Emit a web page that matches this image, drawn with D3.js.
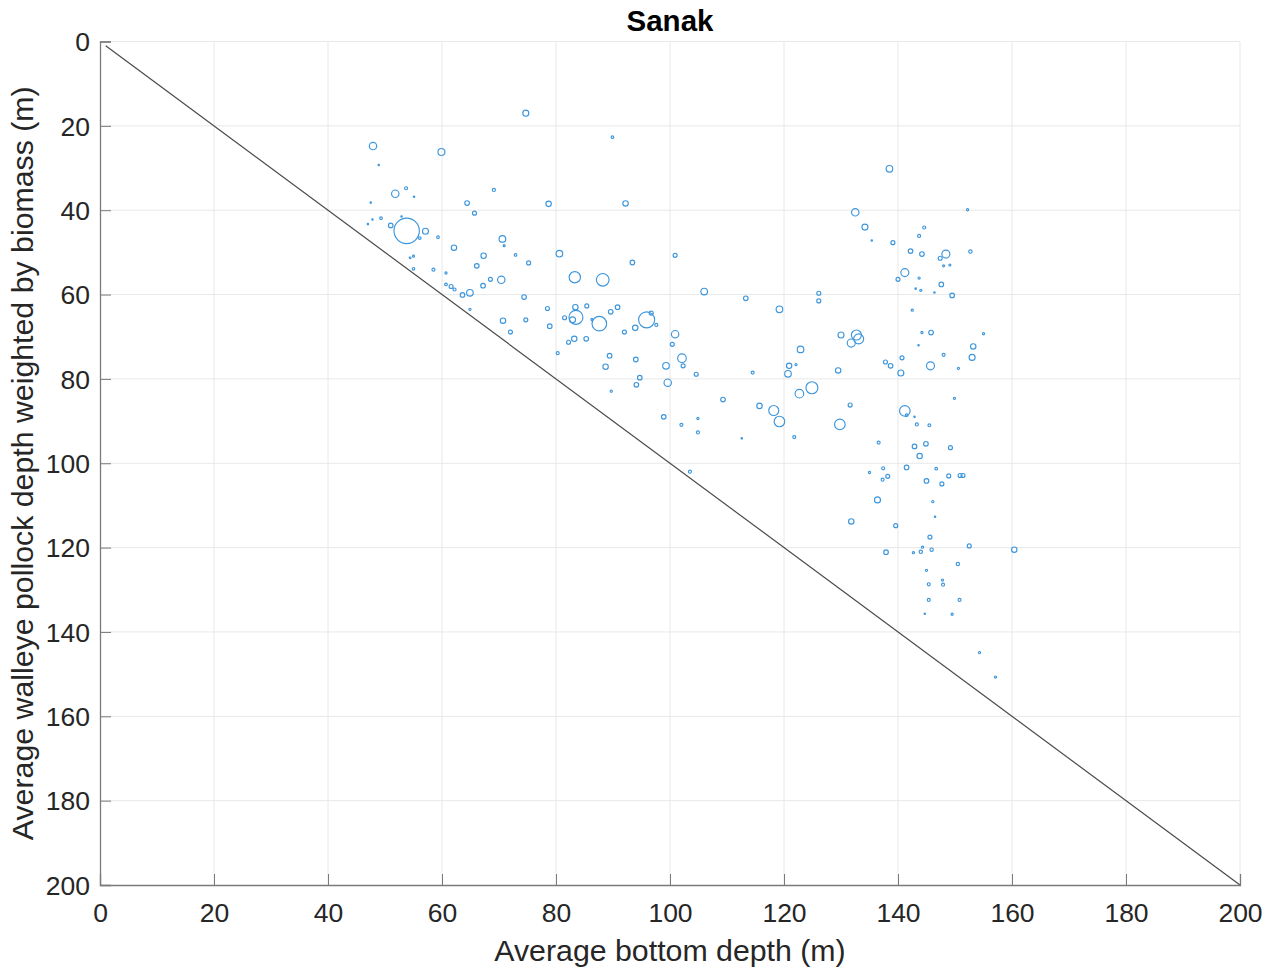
<!DOCTYPE html>
<html>
<head>
<meta charset="utf-8">
<script src="https://cdn.jsdelivr.net/npm/d3@7"></script>
<style>
  html, body { margin: 0; padding: 0; background: #fff; }
  svg { display: block; font-family: "Liberation Sans", Arial, Helvetica, sans-serif; }
</style>
</head>
<body>
<svg id="chart" width="1268" height="970"></svg>
<script>
// Sanak: average bottom depth vs. biomass-weighted pollock depth per haul (m)
const bottomDepth = [
  74.7, 89.9, 47.9, 59.9, 48.9, 51.8, 53.7, 55.1, 47.5, 69.1,
  64.4, 78.7, 65.7, 47.8, 49.3, 47.0, 52.9, 51.0, 53.8, 57.1,
  56.1, 59.3, 70.6, 70.9, 62.1, 67.3, 72.9, 80.6, 55.0, 54.4,
  75.2, 66.1, 55.0, 58.5, 60.7, 83.3, 88.2, 70.4, 68.5, 67.2,
  60.7, 61.6, 62.2, 63.6, 64.9, 74.4, 78.5, 83.4, 85.4, 90.8,
  64.9, 83.5, 82.9, 81.5, 87.6, 86.3, 89.6, 70.7, 74.7, 78.9,
  72.0, 83.2, 82.2, 85.3, 89.4, 88.7, 80.3, 89.7, 106.0, 113.3,
  126.1, 126.1, 119.2, 95.9, 96.7, 97.6, 93.9, 92.0, 100.9, 100.4,
  94.0, 102.1, 102.3, 99.3, 104.6, 94.7, 94.1, 99.6, 122.9, 120.9,
  122.1, 120.7, 114.5, 124.9, 122.7, 109.3, 115.7, 118.2, 119.2, 131.6,
  129.8, 130.0, 132.7, 133.1, 131.8, 129.5, 98.9, 104.9, 102.0, 104.9,
  112.6, 121.8, 103.5, 92.2, 93.4, 100.9, 132.5, 138.5, 152.2, 134.2,
  135.4, 139.1, 144.6, 143.7, 142.2, 144.2, 148.4, 147.4, 152.7, 148.0,
  149.1, 141.2, 140.0, 143.7, 147.6, 144.0, 143.1, 146.4, 149.5, 142.5,
  144.2, 145.8, 155.0, 153.2, 143.6, 153.0, 148.0, 140.7, 137.8, 138.7,
  145.7, 140.5, 150.6, 149.9, 141.2, 141.5, 142.9, 143.3, 145.5, 136.6,
  142.9, 144.9, 149.2, 143.8, 141.5, 137.4, 135.0, 138.2, 137.3, 146.7,
  148.9, 150.9, 151.4, 145.0, 147.7, 136.4, 146.1, 146.5, 131.8, 139.6,
  145.6, 152.5, 160.4, 137.9, 142.7, 144.0, 144.3, 145.9, 150.5, 145.0,
  147.8, 147.9, 145.4, 145.4, 150.8, 144.7, 149.5, 154.3, 157.1
];

const pollockDepth = [
  17.0, 22.7, 24.8, 26.2, 29.3, 36.1, 34.8, 36.8, 38.2, 35.2,
  38.3, 38.5, 40.7, 42.2, 41.9, 43.3, 41.5, 43.6, 44.9, 45.0,
  46.6, 46.4, 46.8, 48.4, 48.9, 50.8, 50.6, 50.3, 50.9, 51.3,
  52.5, 53.2, 53.9, 54.1, 54.9, 55.9, 56.5, 56.5, 56.4, 57.9,
  57.6, 58.1, 58.8, 60.1, 59.6, 60.6, 63.3, 63.0, 62.7, 63.0,
  63.5, 65.4, 66.0, 65.5, 66.9, 65.9, 64.1, 66.2, 66.0, 67.5,
  68.9, 70.5, 71.3, 70.5, 74.5, 77.1, 73.9, 82.9, 59.3, 60.9,
  59.7, 61.5, 63.5, 66.0, 64.4, 67.2, 67.9, 68.9, 69.4, 71.8,
  75.4, 75.1, 76.9, 76.9, 78.9, 79.7, 81.4, 80.9, 73.0, 76.9,
  76.6, 78.8, 78.5, 82.1, 83.5, 84.9, 86.4, 87.5, 90.1, 86.2,
  90.8, 69.6, 69.6, 70.5, 71.5, 78.0, 89.0, 89.4, 90.9, 92.7,
  94.1, 93.8, 102.0, 38.4, 52.4, 50.7, 40.5, 30.2, 39.9, 44.0,
  47.2, 47.7, 44.1, 46.1, 49.7, 50.4, 50.4, 51.4, 49.8, 53.2,
  53.0, 54.8, 56.4, 56.1, 57.6, 59.0, 58.6, 59.5, 60.2, 63.7,
  69.0, 69.0, 69.3, 72.3, 72.0, 74.9, 74.3, 75.0, 76.0, 76.9,
  76.9, 78.6, 77.5, 84.6, 87.6, 88.6, 89.0, 90.8, 91.0, 95.1,
  96.0, 95.4, 96.3, 98.3, 101.0, 101.2, 102.2, 103.1, 103.9, 101.3,
  103.0, 102.9, 102.9, 104.2, 104.9, 108.7, 109.1, 112.7, 113.8, 114.8,
  117.5, 119.6, 120.5, 121.1, 121.2, 121.0, 119.9, 120.5, 123.9, 125.4,
  127.7, 128.8, 128.7, 132.4, 132.4, 135.7, 135.8, 144.9, 150.7
];

// relative pollock biomass per haul (marker area)
const biomass = [
  9, 1.7, 13.7, 12, 0.5, 13.7, 2.3, 0.5, 0.5, 2.5,
  5.3, 7.3, 4, 0.5, 1.7, 0.5, 0.5, 5.3, 161, 9,
  1.7, 1.7, 11, 1, 7.3, 7.3, 1.7, 11, 1, 0.7,
  4, 5.3, 1.7, 2.3, 1.2, 32, 40, 13.7, 4, 5.3,
  1.7, 4, 2.3, 5.3, 11, 5.3, 4, 7.3, 4, 5.3,
  1.2, 49, 9, 4, 53, 1, 5.3, 7.3, 4, 5.3,
  4, 7.3, 4, 5.3, 5.3, 7.3, 2.3, 1.2, 11, 5.3,
  4, 4, 11, 64, 4, 2.3, 7.3, 4, 13.7, 4,
  5.3, 18.5, 4, 11, 4, 5.3, 5.3, 13.7, 11, 7.3,
  1.2, 11, 2.3, 36, 18.5, 5.3, 7.3, 25, 28, 4,
  28, 9, 25, 25, 16, 7.3, 5.3, 1.2, 2.3, 2.3,
  0.5, 2.3, 2.3, 7.3, 5.3, 4, 13.7, 11, 1.2, 9,
  0.5, 4, 2.3, 2.3, 5.3, 5.3, 16, 4, 2.8, 1,
  1, 16, 4, 1.2, 5.3, 1.2, 0.5, 0.5, 5.3, 1.2,
  1.2, 5.3, 1.2, 7.3, 0.5, 9, 2.3, 4, 4, 5.3,
  16, 9, 1.2, 1.2, 28, 1.7, 0.5, 2.3, 2, 2.3,
  5.3, 5.3, 4, 7.3, 5.3, 2.3, 1.2, 4, 2.3, 1.7,
  4, 4, 4, 5.3, 4, 9, 1.2, 0.5, 7.3, 4,
  4, 4, 7.3, 5.3, 1.2, 2.8, 1.2, 2.8, 2.8, 1.2,
  1.2, 2.3, 2.3, 2.3, 2.3, 0.5, 1.2, 1.2, 1.2
];

const xTicks = [0, 20, 40, 60, 80, 100, 120, 140, 160, 180, 200];
const yTicks = [0, 20, 40, 60, 80, 100, 120, 140, 160, 180, 200];
const oneToOne = [1, 200];   // 1:1 reference line endpoints (m)

const title = "Sanak";
const xLabel = "Average bottom depth (m)";
const yLabel = "Average walleye pollock depth weighted by biomass (m)";

const svg = d3.select("#chart");
const plot = { left: 100, right: 1240, top: 41.5, bottom: 885 };

const x = d3.scaleLinear().domain([0, 200]).range([plot.left, plot.right]);
const y = d3.scaleLinear().domain([0, 200]).range([plot.top, plot.bottom]);
const r = d3.scaleSqrt().domain([0, 161]).range([0, 12.7]);

const axisColor = "#7a7a7a";
const textColor = "#262626";
const markColor = "#3d96dc";

// grid
const grid = svg.append("g");
grid.selectAll("line.gx").data(xTicks.slice(1)).join("line")
  .attr("x1", d => x(d)).attr("x2", d => x(d))
  .attr("y1", plot.top).attr("y2", plot.bottom)
  .attr("stroke", "#e8e8e8").attr("stroke-width", 1);
grid.selectAll("line.gy").data(yTicks.slice(0, -1)).join("line")
  .attr("x1", plot.left).attr("x2", plot.right)
  .attr("y1", d => y(d)).attr("y2", d => y(d))
  .attr("stroke", "#e8e8e8").attr("stroke-width", 1);

// 1:1 line
svg.append("line")
  .attr("x1", x(oneToOne[0])).attr("y1", y(oneToOne[0]))
  .attr("x2", x(oneToOne[1])).attr("y2", y(oneToOne[1]))
  .attr("stroke", "#4a4a4a").attr("stroke-width", 1.2);

// hauls
const pts = bottomDepth.map((d, i) => ({ bx: d, py: pollockDepth[i], w: biomass[i] }));
svg.append("g").selectAll("circle").data(pts).join("circle")
  .attr("cx", d => x(d.bx))
  .attr("cy", d => y(d.py))
  .attr("r", d => Math.max(0.6, r(d.w)))
  .attr("fill", "none")
  .attr("stroke", markColor)
  .attr("stroke-width", 1.15);

// axes (ticks point inward, MATLAB-style)
const xAxis = d3.axisBottom(x).tickValues(xTicks).tickSize(-11).tickPadding(0).tickFormat(d3.format("d"));
const yAxis = d3.axisLeft(y).tickValues(yTicks).tickSize(-11).tickPadding(0).tickFormat(d3.format("d"));

const gx = svg.append("g").attr("transform", `translate(0,${plot.bottom})`).call(xAxis);
const gy = svg.append("g").attr("transform", `translate(${plot.left},0)`).call(yAxis);

[gx, gy].forEach(g => {
  g.select(".domain").attr("stroke", axisColor).attr("stroke-width", 1.3);
  g.selectAll(".tick line").attr("stroke", axisColor).attr("stroke-width", 1);
  g.selectAll(".tick text")
    .attr("fill", textColor)
    .style("font-size", "26.5px")
    .style("font-family", "'Liberation Sans', Arial, sans-serif");
});
gx.selectAll(".tick text").attr("y", 36.5).attr("dy", 0);
gy.selectAll(".tick text").attr("x", -10).attr("dy", "0.35em");

// labels
svg.append("text")
  .attr("x", (plot.left + plot.right) / 2).attr("y", 961)
  .attr("text-anchor", "middle").attr("fill", textColor)
  .style("font-size", "30.3px").text(xLabel);

svg.append("text")
  .attr("transform", `translate(33,${(plot.top + plot.bottom) / 2}) rotate(-90)`)
  .attr("text-anchor", "middle").attr("fill", textColor)
  .style("font-size", "30.3px").text(yLabel);

svg.append("text")
  .attr("x", (plot.left + plot.right) / 2).attr("y", 31)
  .attr("text-anchor", "middle").attr("fill", "#000")
  .style("font-size", "29.5px").style("font-weight", "bold").text(title);
</script>
</body>
</html>
